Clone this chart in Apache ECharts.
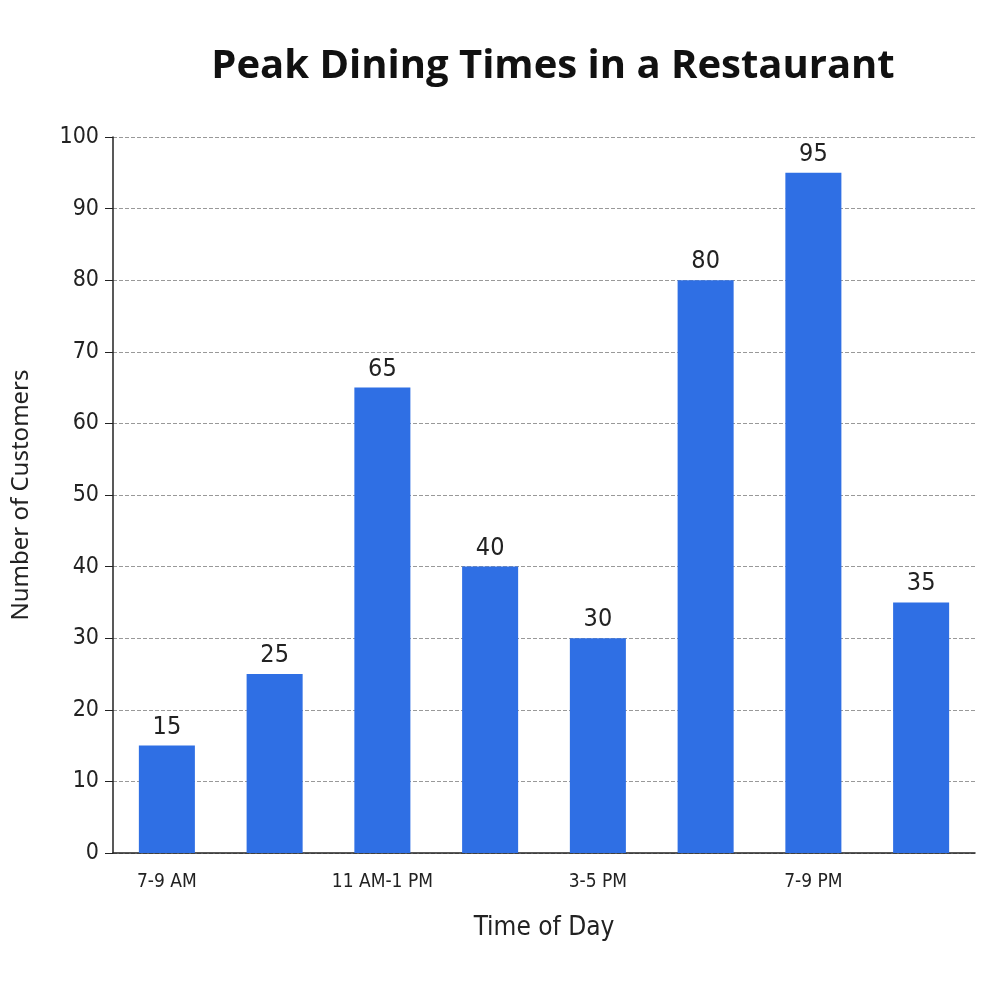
<!DOCTYPE html>
<html><head><meta charset="utf-8">
<script src="https://cdn.jsdelivr.net/npm/echarts@6/dist/echarts.min.js"></script>
<style>html,body{margin:0;padding:0;background:#fff}#c{width:1000px;height:1000px}</style>
</head><body><div id="c"></div>
<script>
const categories = ['7-9 AM','9-11 AM','11 AM-1 PM','1-3 PM','3-5 PM','5-7 PM','7-9 PM','9-11 PM'];
const customers = [15,25,65,40,30,80,95,35];
const narrow = '"Liberation Sans Narrow","Arial Narrow","DejaVu Sans Condensed",sans-serif';
const chart = echarts.init(document.getElementById('c'));
chart.setOption({
  backgroundColor:'#fff',
  title:{text:'Peak Dining Times in a Restaurant',left:548,textAlign:'center',top:42,
    textStyle:{fontSize:40,fontWeight:'bold',color:'#111',fontFamily:'"Open Sans","Noto Sans",sans-serif'}},
  grid:{left:113,right:25,top:137,bottom:147},
  xAxis:{type:'category',data:categories,
    name:'Time of Day',nameLocation:'middle',nameGap:62,
    nameTextStyle:{fontSize:26,color:'#222',fontFamily:narrow},
    axisLine:{lineStyle:{color:'#222',width:1.5}},axisTick:{show:false},
    axisLabel:{fontSize:19,color:'#222',margin:20,fontFamily:narrow}},
  yAxis:{type:'value',min:0,max:100,interval:10,
    name:'Number of Customers',nameLocation:'middle',nameGap:80,
    nameTextStyle:{fontSize:24,color:'#222',fontFamily:'"Noto Sans",sans-serif'},
    axisLine:{show:true,lineStyle:{color:'#222',width:1.5}},
    axisTick:{show:true,length:8,lineStyle:{color:'#222'}},
    axisLabel:{fontSize:23,color:'#222',margin:14,fontFamily:narrow},
    splitLine:{lineStyle:{type:'dashed',color:'#999'}}},
  series:[{type:'bar',data:customers,barWidth:'52%',
    itemStyle:{color:'#2f6fe4'},
    label:{show:true,position:'top',distance:6,fontSize:25,color:'#222',fontFamily:narrow}}]
});
</script></body></html>
